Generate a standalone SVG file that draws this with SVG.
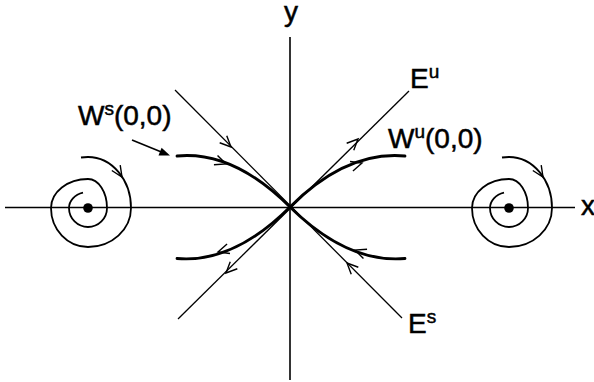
<svg xmlns="http://www.w3.org/2000/svg" xmlns:xlink="http://www.w3.org/1999/xlink" width="594" height="382" viewBox="0 0 594 382">
<style>
.axis{stroke:#000;stroke-width:1.6;fill:none}
.eig{stroke:#000;stroke-width:1.3;fill:none}
.man{stroke:#000;stroke-width:2.8;fill:none;stroke-linecap:round}
.spir{stroke:#000;stroke-width:1.8;fill:none}
.ah{stroke:#000;stroke-width:1.4;fill:none;stroke-linejoin:miter}
.lbl{font-family:"Liberation Sans",Arial,sans-serif;font-size:28px;fill:#000;stroke:#000;stroke-width:0.5}
.sup{font-size:19px}
</style>
<defs>
<path id="ah" class="ah" d="M-11,-5 L0,0 L-11,5"/>
<path id="spiral" class="spir" d="M -7,-50.5 Q -3.5,-51 0,-51 A 43 51 0 0 1 43,0 A 43 39 0 0 1 0,39 A 37 39 0 0 1 -37,0 A 37 29 0 0 1 0,-29 A 19 29 0 0 1 19,0 A 19 19 0 0 1 0,19 A 19 19 0 0 1 -19,0 A 19 16 0 0 1 -5,-15.4"/>
</defs>
<rect width="594" height="382" fill="#fff"/>
<g id="axes">
<line class="axis" x1="5" y1="207.5" x2="575" y2="207.5"/>
<line class="axis" x1="290" y1="37" x2="290" y2="380"/>
</g>
<g id="connectors">
<line class="eig" x1="175" y1="90" x2="402" y2="318"/>
<line class="eig" x1="178" y1="319" x2="409" y2="91"/>
<path class="man" d="M177,156 Q233.5,150.5 290,207"/>
<path class="man" d="M405,258.5 Q347.5,263.5 290,207"/>
<path class="man" d="M290,207 Q346.5,150.5 405,156"/>
<path class="man" d="M290,207 Q233.5,263.5 177,258.5"/>
<use xlink:href="#ah" transform="translate(231,147) rotate(45)"/>
<use xlink:href="#ah" transform="translate(347,263) rotate(-135)"/>
<use xlink:href="#ah" transform="translate(358,139) rotate(-45)"/>
<use xlink:href="#ah" transform="translate(226,273) rotate(135)"/>
<use xlink:href="#ah" transform="translate(226,164) rotate(21)"/>
<use xlink:href="#ah" transform="translate(355,250) rotate(201)"/>
<use xlink:href="#ah" transform="translate(362,163) rotate(-17)"/>
<use xlink:href="#ah" transform="translate(218,252) rotate(163)"/>
<line x1="132" y1="140" x2="162" y2="152.2" stroke="#000" stroke-width="1.6"/>
<polygon points="170,155.5 158.5,155.6 161.6,147.8" fill="#000"/>
</g>
<g id="node-left">
<use xlink:href="#spiral" transform="translate(88,208)"/>
<use xlink:href="#ah" transform="translate(122,177) rotate(57)"/>
<circle cx="88" cy="208" r="4.8" fill="#000"/>
</g>
<g id="node-right">
<use xlink:href="#spiral" transform="translate(509,208)"/>
<use xlink:href="#ah" transform="translate(543,177) rotate(57)"/>
<circle cx="509" cy="208" r="4.8" fill="#000"/>
</g>
<g id="labels">
<text class="lbl" x="284" y="21">y</text>
<text class="lbl" x="581" y="215">x</text>
<text class="lbl" x="78" y="125">W<tspan class="sup" dy="-10">s</tspan><tspan dy="10">(0,0)</tspan></text>
<text class="lbl" x="388" y="148">W<tspan class="sup" dy="-10">u</tspan><tspan dy="10">(0,0)</tspan></text>
<text class="lbl" x="410" y="88">E<tspan class="sup" dy="-10">u</tspan></text>
<text class="lbl" x="408" y="333">E<tspan class="sup" dy="-10">s</tspan></text>
</g>
</svg>
